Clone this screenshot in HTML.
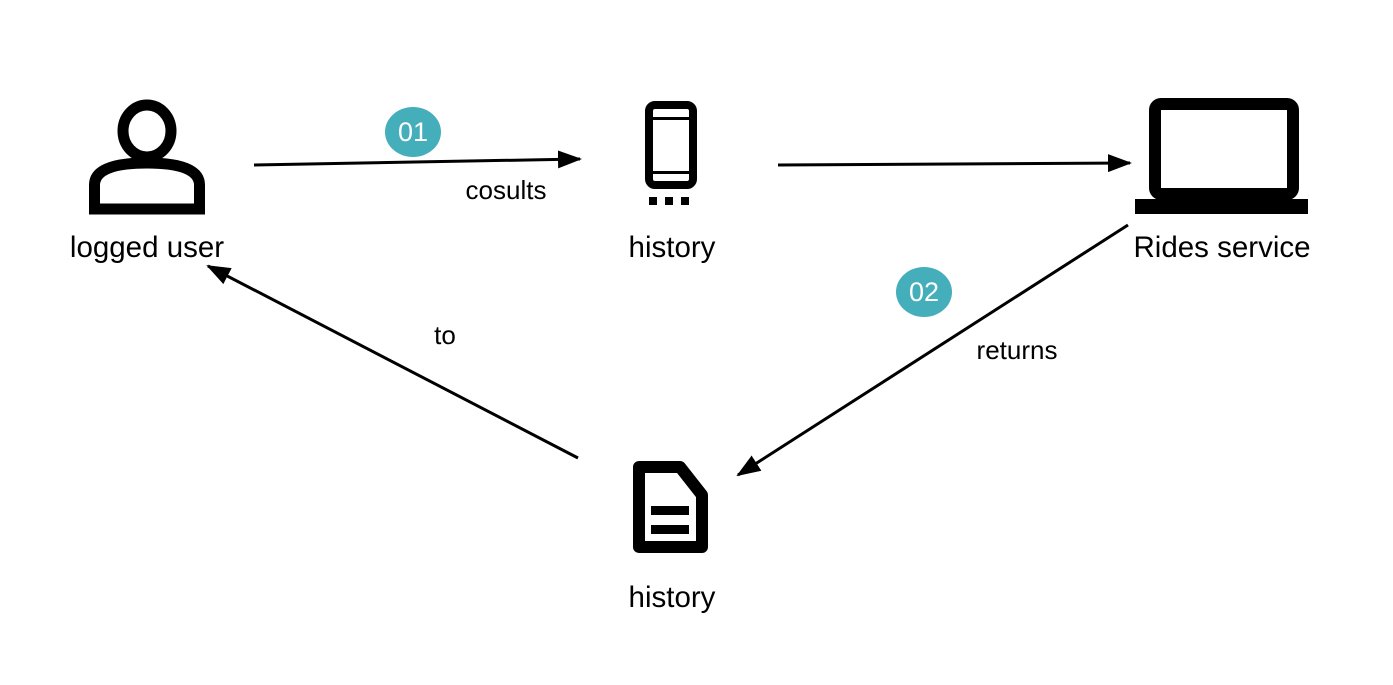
<!DOCTYPE html>
<html><head><style>body{margin:0;background:#fff}svg{display:block}</style></head><body>
<svg width="1393" height="685" viewBox="0 0 1393 685" xmlns="http://www.w3.org/2000/svg" font-family="Liberation Sans, sans-serif">
<defs>
<marker id="b" markerWidth="24" markerHeight="20" refX="22" refY="10" orient="auto" markerUnits="userSpaceOnUse"><path d="M0,1 L24,10 L0,19 z" fill="#000"/></marker></defs>
<!-- person -->
<ellipse cx="147" cy="131" rx="24" ry="26" fill="none" stroke="#000" stroke-width="11"/>
<path d="M94.5,209 L94.5,185 Q94.5,163 147,163 Q199.5,163 199.5,185 L199.5,209 Z" fill="none" stroke="#000" stroke-width="11"/>
<!-- phone -->
<rect x="649" y="105" width="44" height="80" rx="6" fill="none" stroke="#000" stroke-width="8"/>
<rect x="653" y="117" width="36" height="3" fill="#000"/><rect x="653" y="171" width="36" height="3" fill="#000"/>
<rect x="649" y="197" width="8" height="8"/><rect x="665" y="197" width="8" height="8"/><rect x="681" y="197" width="8" height="8"/>
<!-- laptop -->
<rect x="1155" y="104" width="138" height="90" rx="6" fill="none" stroke="#000" stroke-width="12"/>
<rect x="1135" y="199" width="173" height="15" fill="#000"/>
<!-- doc -->
<path d="M639,467 L680,467 L702,495 L702,547 L639,547 Z" fill="none" stroke="#000" stroke-width="12" stroke-linejoin="round"/>
<rect x="651" y="506" width="38" height="9"/><rect x="651" y="525" width="38" height="9"/>
<!-- arrows -->
<line x1="254" y1="165" x2="580" y2="159" stroke="#000" stroke-width="3" marker-end="url(#b)"/>
<line x1="778" y1="165" x2="1130" y2="163" stroke="#000" stroke-width="3" marker-end="url(#b)"/>
<line x1="1128" y1="225" x2="738" y2="475" stroke="#000" stroke-width="3" marker-end="url(#b)"/>
<line x1="578" y1="458" x2="208" y2="266" stroke="#000" stroke-width="3" marker-end="url(#b)"/>
<!-- badges -->
<ellipse cx="413" cy="132" rx="28" ry="25" fill="#45aebb"/>
<text x="413" y="141" font-size="27" fill="#fff" text-anchor="middle">01</text>
<ellipse cx="924" cy="292" rx="28" ry="25" fill="#45aebb"/>
<text x="924" y="301" font-size="27" fill="#fff" text-anchor="middle">02</text>
<!-- labels -->
<g font-size="29.5" text-anchor="middle" fill="#000">
<text x="147" y="257">logged user</text>
<text x="672" y="257">history</text>
<text x="1222" y="257">Rides service</text>
<text x="672" y="607">history</text>
</g>
<g font-size="26" text-anchor="middle" fill="#000">
<text x="506" y="199">cosults</text>
<text x="445" y="344">to</text>
<text x="1017" y="359">returns</text>
</g>
</svg>
</body></html>
